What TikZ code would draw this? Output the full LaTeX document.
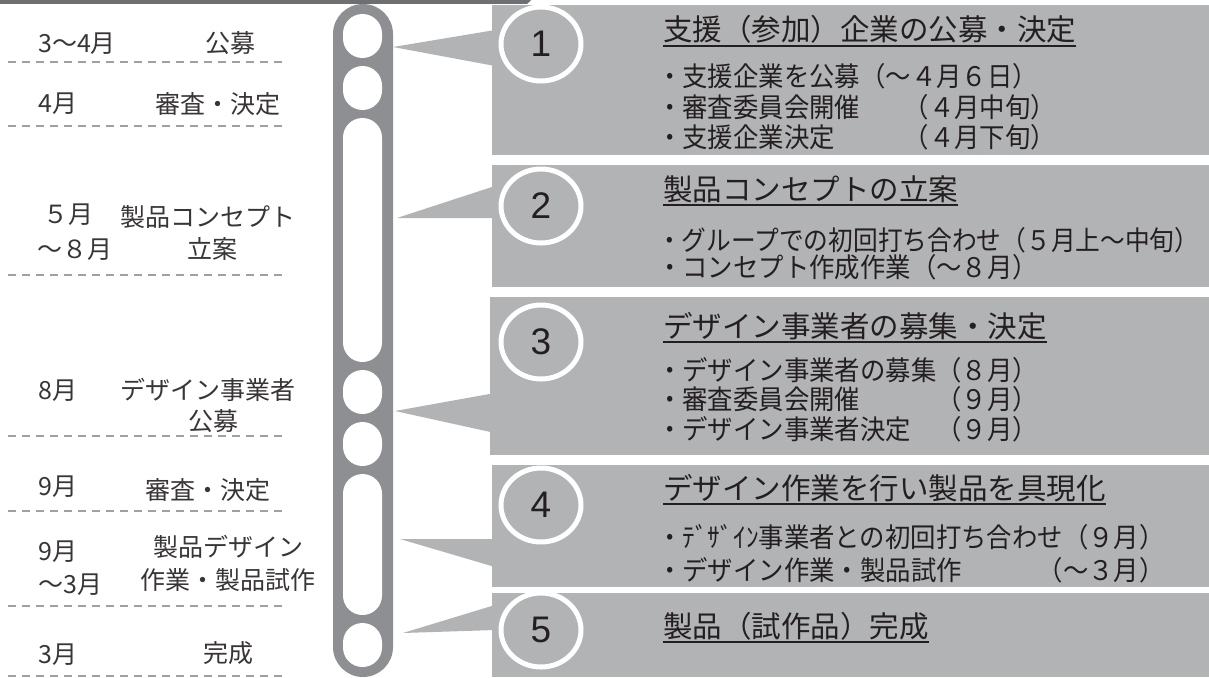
\documentclass[tikz,border=0pt]{standalone}
\usepackage{fontspec}
\setmainfont{Liberation Sans}
\newfontfamily\jp{Noto Sans CJK JP}
\newfontfamily\jpn[FakeStretch=0.94]{Noto Sans CJK JP}
\newfontfamily\jpm[FakeStretch=0.915]{Noto Sans CJK JP}
\definecolor{capg}{HTML}{8E8F93}
\definecolor{boxg}{HTML}{B2B3B5}
\definecolor{topg}{HTML}{6E6F72}
\definecolor{ink}{HTML}{231F20}
\definecolor{dashg}{HTML}{A0A0A0}
\begin{document}
\begin{tikzpicture}[x=1pt,y=-1pt,
  lbl/.style={font=\jp\fontsize{25}{25}\selectfont, text=ink!90, inner sep=0pt, anchor=west},
  ttl/.style={font=\jp\fontsize{29.5}{29.5}\selectfont, text=ink, inner sep=0pt, anchor=base west},
  bul/.style={font=\jpn\fontsize{27}{27}\selectfont, text=ink, inner sep=0pt, anchor=base west},
  bulnarrow/.style={bul, font=\jpm\fontsize{27}{27}\selectfont},
  parr/.style={font=\jpn\fontsize{27}{27}\selectfont, text=ink, inner sep=0pt, anchor=base east},
  num/.style={font=\fontsize{37}{37}\selectfont, text=ink, inner sep=0pt},
  ring/.style={draw=white, line width=5pt, fill=boxg},
  hole/.style={fill=white, rounded corners=19.5pt},
  sep/.style={draw=dashg, line width=1.8pt, dash pattern=on 8pt off 6pt},
  uline/.style={draw=ink, line width=1.6pt},
  panel/.style={fill=boxg}]
\useasboundingbox (0,0) rectangle (1209,677);
\fill[white] (0,0) rectangle (1209,677);
% top bar
\fill[topg] (0,0) -- (531,0) -- (527,4) -- (0,4) -- cycle;
% capsule
\fill[capg, rounded corners=30pt] (333,4) rectangle (393,677);
\fill[hole] (343,14) rectangle (382,58);
\fill[hole] (343,66) rectangle (382,110);
\fill[hole] (343,118) rectangle (382,362);
\fill[hole] (343,370) rectangle (382,414);
\fill[hole] (343,422) rectangle (382,466);
\fill[hole] (343,474) rectangle (382,615);
\fill[hole] (343,623) rectangle (382,667);
% wedges
\fill[panel] (393,47) -- (495,30) -- (495,66) -- cycle;
\fill[panel] (397,218) -- (495,186) -- (495,218) -- cycle;
\fill[panel] (395,411) -- (495,393) -- (495,433) -- cycle;
\fill[panel] (400,539) -- (495,539) -- (495,567) -- cycle;
\fill[panel] (403,633) -- (495,605) -- (495,630) -- cycle;
% panels
\fill[panel] (492,5) rectangle (1209,155);
\fill[panel] (492,165) rectangle (1209,287);
\fill[panel] (490,297) rectangle (1209,455);
\fill[panel] (492,465) rectangle (1209,587);
\fill[panel] (492,593) rectangle (1209,677);
% rings and numbers
\draw[ring] (541,44) ellipse (40pt and 37pt);
\node[num] (n1) at (541,44) {1};
\draw[ring] (541,206) ellipse (40pt and 37pt);
\node[num] (n2) at (541,206) {2};
\draw[ring] (541,342) ellipse (40pt and 37pt);
\node[num] (n3) at (541,342) {3};
\draw[ring] (541,505) ellipse (40pt and 37pt);
\node[num] (n4) at (541,505) {4};
\draw[ring] (541,630) ellipse (40pt and 37pt);
\node[num] (n5) at (541,630) {5};
% panel 1
\node[ttl] (t1) at (663,41) {支援（参加）企業の公募・決定};
\draw[uline] ([yshift=-5pt]t1.base west) -- ([yshift=-5pt]t1.base east);
\node[bul] (b11) at (657,86) {・支援企業を公募（〜４月６日）};
\node[bul] (b12) at (657,117) {・審査委員会開催};
\node[parr] (p12) at ([xshift=18pt]b11.base east |- b12.base east) {（４月中旬）};
\node[bul] (b13) at (657,147) {・支援企業決定};
\node[parr] (p13) at ([xshift=18pt]b11.base east |- b13.base east) {（４月下旬）};
% panel 2
\node[ttl] (t2) at (663,200) {製品コンセプトの立案};
\draw[uline] ([yshift=-5pt]t2.base west) -- ([yshift=-5pt]t2.base east);
\node[bulnarrow] (b21) at (657,250) {・グループでの初回打ち合わせ（５月上〜中旬）};
\node[bul] (b22) at (657,277) {・コンセプト作成作業（〜８月）};
% panel 3
\node[ttl] (t3) at (663,337) {デザイン事業者の募集・決定};
\draw[uline] ([yshift=-5pt]t3.base west) -- ([yshift=-5pt]t3.base east);
\node[bul] (b31) at (657,380) {・デザイン事業者の募集（８月）};
\node[bul] (b32) at (657,409) {・審査委員会開催};
\node[parr] (p32) at (b31.base east |- b32.base east) {（９月）};
\node[bul] (b33) at (657,439) {・デザイン事業者決定};
\node[parr] (p33) at (b31.base east |- b33.base east) {（９月）};
% panel 4
\node[ttl] (t4) at (663,499) {デザイン作業を行い製品を具現化};
\draw[uline] ([yshift=-5pt]t4.base west) -- ([yshift=-5pt]t4.base east);
\node[bul] (b41) at (657,547) {・ﾃﾞｻﾞｲﾝ事業者との初回打ち合わせ（９月）};
\node[bul] (b42) at (657,580) {・デザイン作業・製品試作};
\node[parr] (p42) at (b41.base east |- b42.base east) {（〜３月）};
% panel 5
\node[ttl] (t5) at (663,637) {製品（試作品）完成};
\draw[uline] ([yshift=-5pt]t5.base west) -- ([yshift=-5pt]t5.base east);
% left column
\node[lbl] (m1) at (38,44) {3〜4月};
\node[lbl] (e1) at (205,43) {公募};
\draw[sep] (8,62) -- (285,62);
\node[lbl] (m2) at (38,104) {4月};
\node[lbl] (e2) at (155,104) {審査・決定};
\draw[sep] (8,126) -- (285,126);
\node[lbl] (m3a) at (43,215) {５月};
\node[lbl] (e3a) at (120,217) {製品コンセプト};
\node[lbl] (m3b) at (37,250) {〜８月};
\node[lbl] (e3b) at (187,249) {立案};
\draw[sep] (8,275) -- (285,275);
\node[lbl] (m4) at (38,391) {8月};
\node[lbl] (e4a) at (120,390) {デザイン事業者};
\node[lbl] (e4b) at (188,421) {公募};
\draw[sep] (8,436) -- (285,436);
\node[lbl] (m5) at (38,487) {9月};
\node[lbl] (e5) at (145,490) {審査・決定};
\draw[sep] (8,511) -- (285,511);
\node[lbl] (m6a) at (38,552) {9月};
\node[lbl] (m6b) at (38,585) {〜3月};
\node[lbl] (e6a) at (153,547) {製品デザイン};
\node[lbl] (e6b) at (140,580) {作業・製品試作};
\draw[sep] (8,606) -- (285,606);
\node[lbl] (m7) at (38,655) {3月};
\node[lbl] (e7) at (203,653) {完成};
\draw[sep] (8,676) -- (285,676);
\end{tikzpicture}
\end{document}
